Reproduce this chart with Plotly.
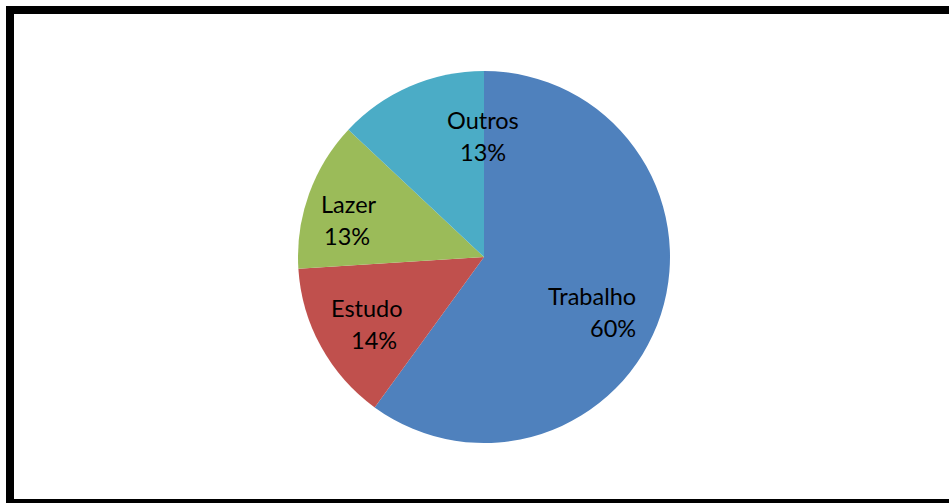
import math
import plotly.graph_objects as go

categories = ["Trabalho", "Estudo", "Lazer", "Outros"]
values = [60, 14, 13, 13]
colors = ["#4F81BD", "#C0504D", "#9BBB59", "#4BACC6"]

W, H = 949, 503
cx, cy, r = 484, 257, 186
FONT = dict(family="Lato", size=23.5, color="black")

# best-fit style nudges (px) of each label block from the slice mid-angle point,
# and horizontal offset between the name line and the percentage line
label_nudge = [(4, 19), (-8, 10), (-22, 5), (47, -9)]
pct_shift = [21, 7, -2, 0]
line_gap = 32

fig = go.Figure(go.Pie(
    labels=categories,
    values=values,
    sort=False,
    direction="clockwise",
    rotation=0,
    marker=dict(colors=colors, line=dict(width=0)),
    textinfo="none",
    showlegend=False,
    hoverinfo="label+percent",
    domain=dict(x=[(cx - r) / W, (cx + r) / W], y=[(H - cy - r) / H, (H - cy + r) / H]),
))

total = sum(values)
annotations = []
start = 0.0
for name, v, (nx, ny), ps in zip(categories, values, label_nudge, pct_shift):
    frac = v / total
    mid = (start + frac / 2) * 2 * math.pi
    start += frac
    px = cx + 0.65 * r * math.sin(mid) + nx
    py = cy - 0.65 * r * math.cos(mid) + ny
    pct = f"{round(frac * 100)}%"
    lines = ((name, px - ps / 2, py - line_gap / 2), (pct, px + ps / 2, py + line_gap / 2))
    for text, x, y in lines:
        annotations.append(dict(
            text=text, x=x / W, y=1 - (y - 1) / H, xref="paper", yref="paper",
            xanchor="center", yanchor="middle", showarrow=False, font=FONT,
        ))

# thick black frame around the chart area
frame = [
    dict(x0=6, x1=W, y0=6, y1=14),
    dict(x0=6, x1=14, y0=6, y1=H),
    dict(x0=6, x1=W, y0=499, y1=H),
]
fig.update_layout(
    width=W, height=H,
    margin=dict(l=0, r=0, t=0, b=0),
    paper_bgcolor="white",
    plot_bgcolor="white",
    annotations=annotations,
    shapes=[dict(type="rect", xref="paper", yref="paper",
                 x0=f["x0"] / W, x1=f["x1"] / W,
                 y0=1 - f["y1"] / H, y1=1 - f["y0"] / H,
                 fillcolor="black", line=dict(width=0), layer="above")
            for f in frame],
)

fig.write_html("out.html")
